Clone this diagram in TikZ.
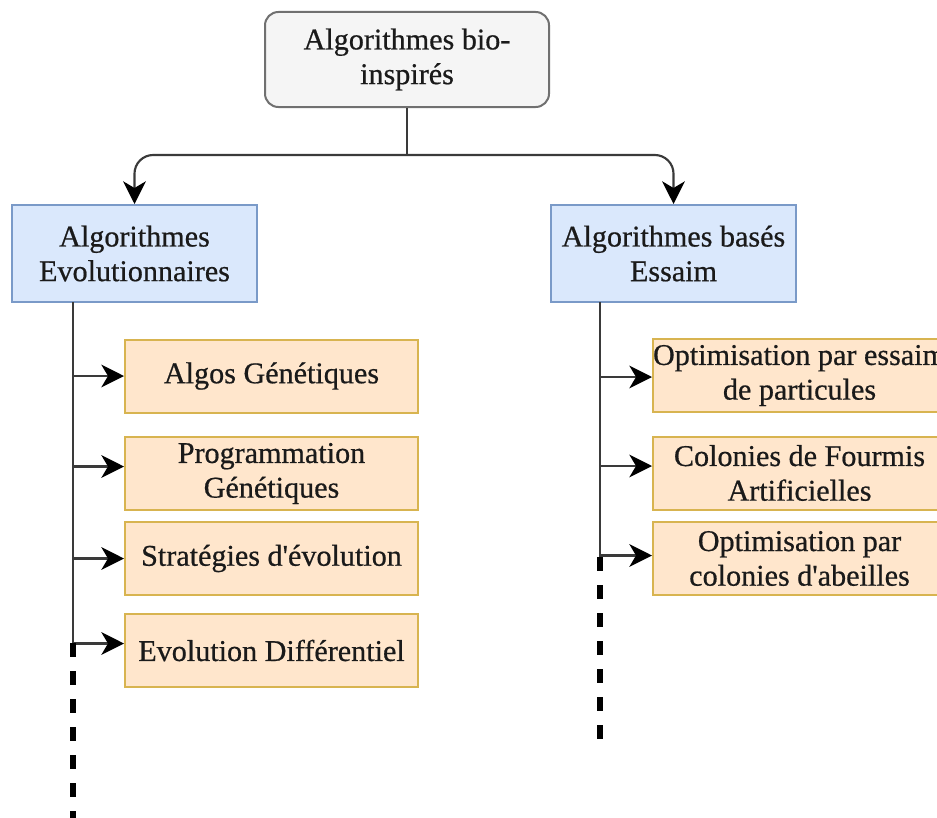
\documentclass[tikz,border=0pt]{standalone}
\usepackage{fontspec}
\setmainfont{Liberation Serif}[FakeBold=0.6]
\usetikzlibrary{arrows.meta,calc}
\definecolor{rootfill}{HTML}{F5F5F5}
\definecolor{rootdraw}{HTML}{707070}
\definecolor{bluefill}{HTML}{DAE8FC}
\definecolor{bluedraw}{HTML}{7A9AC8}
\definecolor{orfill}{HTML}{FFE6CC}
\definecolor{ordraw}{HTML}{D8B450}
\definecolor{wire}{HTML}{3A3A3A}
\definecolor{ink}{HTML}{1A1A1A}
\newcommand\apos{\textquotesingle}
\begin{document}
\begin{tikzpicture}[x=0.75pt,y=-0.75pt,
  base/.style={font=\fontsize{22.6}{26}\selectfont, text=ink, align=center,
    inner sep=0pt, line width=1.5pt},
  rootbox/.style={base, draw=rootdraw, fill=rootfill, rounded corners=10pt,
    minimum width=213pt, minimum height=71.25pt},
  catbox/.style={base, draw=bluedraw, fill=bluefill,
    minimum width=183.75pt, minimum height=72.75pt},
  leafbox/.style={base, draw=ordraw, fill=orfill,
    minimum width=219.75pt, minimum height=54.75pt},
  wireline/.style={draw=wire, line width=1.6pt},
  arr/.style={wireline, -{Stealth[length=17pt,width=17pt,inset=5pt,color=black]}},
  more/.style={draw=black, line width=4.5pt, dash pattern=on 10.5pt off 10.5pt}
]
\useasboundingbox (0,0) rectangle (937,817);
\clip (0,0) rectangle (937,817);

% hierarchy boxes
\node[rootbox] (root) at (407,59.5) {Algorithmes bio-\\inspirés};
\node[catbox] (evo) at (134.5,253.5) {Algorithmes\\Evolutionnaires};
\node[catbox] (swarm) at (673.5,253.5) {Algorithmes basés\\Essaim};

% evolutionary family
\node[leafbox] (ag) at (271.5,376) {Algos Génétiques};
\node[leafbox] (pg) at (271.5,473.5) {Programmation\\Génétiques};
\node[leafbox] (se) at (271.5,558.5) {Stratégies d\apos évolution};
\node[leafbox] (de) at (271.5,650.5) {Evolution Différentiel};

% swarm family
\node[leafbox] (pso) at (799.5,375.5) {Optimisation par essaim\\de particules};
\node[leafbox] (aco) at (799.5,473) {Colonies de Fourmis\\Artificielles};
\node[leafbox] (abc) at (799.5,558.5) {Optimisation par\\colonies d\apos abeilles};

% root split
\coordinate (j) at (407,155);
\draw[wireline] (root.south) -- (j);
\draw[arr, rounded corners=14pt] (j) -| (evo.north);
\draw[arr, rounded corners=14pt] (j) -| (swarm.north);

% left trunk and branches
\coordinate (lt) at (73,302);
\coordinate (lb) at (73,643);
\draw[wireline] (lt) -- (lb);
\draw[arr] (lt |- ag.west) -- (ag.west);
\draw[arr] ($(lt |- pg.west)+(0,-7)$) -- ($(pg.west)+(0,-7)$);
\draw[arr] (lt |- se.west) -- (se.west);
\draw[arr] ($(lt |- de.west)+(0,-7)$) -- ($(de.west)+(0,-7)$);
\coordinate (le) at (73,830);
\draw[more] (lb) -- (le);

% right trunk and branches
\coordinate (rt) at (600,302);
\coordinate (rb) at (600,557);
\draw[wireline] (rt) -- (rb);
\draw[arr] ($(rt |- pso.west)+(0,1.5)$) -- ($(pso.west)+(0,1.5)$);
\draw[arr] ($(rt |- aco.west)+(0,-7)$) -- ($(aco.west)+(0,-7)$);
\draw[arr] ($(rt |- abc.west)+(0,-3)$) -- ($(abc.west)+(0,-3)$);
\coordinate (re) at (600,752);
\draw[more] (rb) -- (re);
\end{tikzpicture}
\end{document}
